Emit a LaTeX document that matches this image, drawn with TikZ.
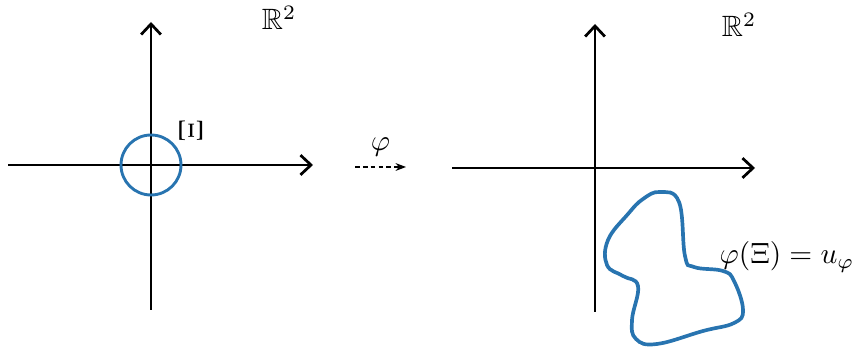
\documentclass[tikz,border=0pt]{standalone}
\usepackage{amssymb}
\usetikzlibrary{arrows.meta}

\definecolor{mplblue}{RGB}{40,116,176}

\begin{document}
\begin{tikzpicture}[
  x=0.0134cm, y=-0.0134cm,
  every node/.style={scale=1.12},
  axis/.style={line width=1.05pt, -{Straight Barb[length=4pt, width=7.5pt, line width=1.05pt]}},
  disc/.style={draw=mplblue, line width=1.1pt},
  blob/.style={draw=mplblue, line width=1.4pt},
  mapto/.style={line width=0.4pt, dash pattern=on 1.8pt off 1.2pt, -{Stealth[length=4pt, width=3pt]}}
]
  \useasboundingbox (0,0) rectangle (854,353);

  % ── Left plane: the disc Xi ────────────────────────────────────────────
  \coordinate (lx0) at (8,165);   \coordinate (lx1) at (313,165);
  \coordinate (ly0) at (151,310); \coordinate (ly1) at (151,22);
  \draw[axis] (lx0) -- (lx1);
  \draw[axis] (ly0) -- (ly1);
  \coordinate (lorigin) at (151,165);
  \draw[disc] (lorigin) circle[radius=30];
  \node[rotate=-90, scale=1.15] (xi) at (191,131) {$\Xi$};
  \node (lplane) at (279,18) {$\mathbb{R}^2$};

  % ── The map phi ────────────────────────────────────────────────────────
  \coordinate (m0) at (355,167); \coordinate (m1) at (406,167);
  \draw[mapto] (m0) -- node[above=0pt] (phi) {$\varphi$} (m1);

  % ── Right plane: the image u_phi ───────────────────────────────────────
  \coordinate (rx0) at (452,168); \coordinate (rx1) at (755,168);
  \coordinate (ry0) at (595,312); \coordinate (ry1) at (595,24);
  \draw[axis] (rx0) -- (rx1);
  \draw[axis] (ry0) -- (ry1);
  \node (rplane) at (739,25) {$\mathbb{R}^2$};
  \draw[blob] plot[smooth cycle, tension=0.7] coordinates {
    (660,192) (679,202) (685,256) (694,267) (723,271) (734,281)
    (743,310) (734,323) (703,331) (657,344) (636,339) (632,320)
    (638,286) (623,276) (607,265) (608,240) (628,214) (643,199)};
  \node (image) at (787,257) {$\varphi(\Xi) = u_{\varphi}$};
\end{tikzpicture}
\end{document}
